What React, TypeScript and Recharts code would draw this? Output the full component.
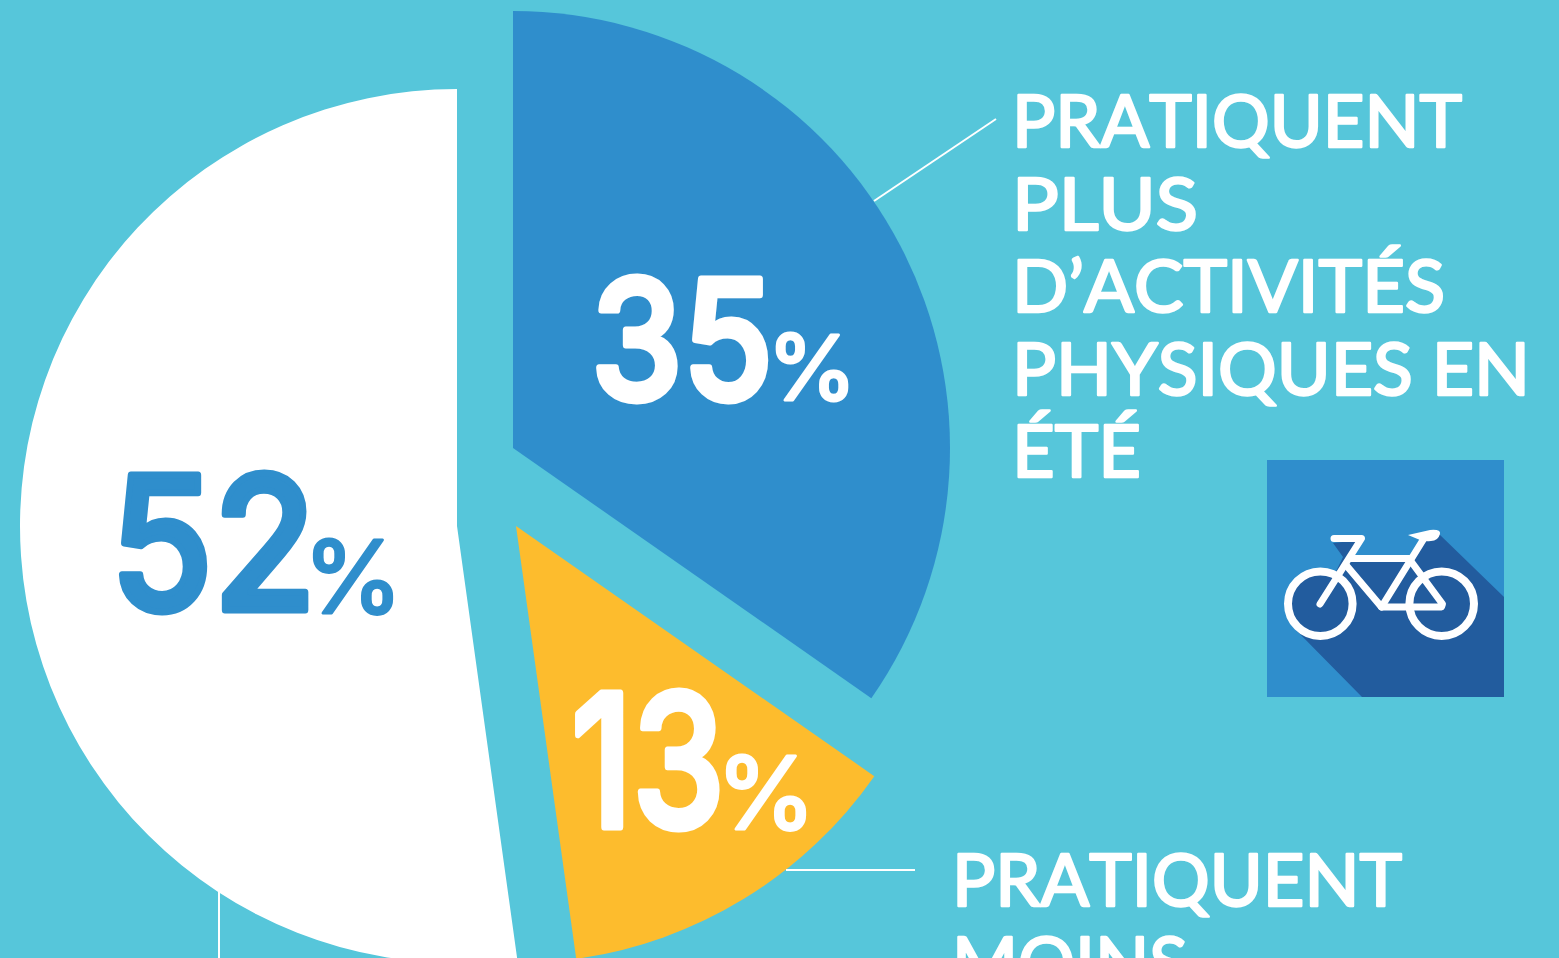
import { Cell, Pie, PieChart } from "recharts";

const WIDTH = 1559;
const HEIGHT = 958;

const categories = ["plus", "moins", "pareil"];
const shares = [34.7, 13.1, 52.2];
const sliceColors = ["#2f8ecc", "#fdbc2d", "#ffffff"];
const numberColors = ["#ffffff", "#ffffff", "#2f8ecc"];

const plusLines = ["PRATIQUENT", "PLUS", "D’ACTIVITÉS", "PHYSIQUES EN", "ÉTÉ"];
const moinsLines = ["PRATIQUENT", "MOINS"];

const data = categories.map((name, i) => ({ name, value: shares[i] }));

// each slice is pulled away from the centre, so one Pie per slice
const pieCentres = [
  { cx: 513, cy: 448 },
  { cx: 516, cy: 526 },
  { cx: 457, cy: 526 },
];

const numberPositions = [
  { x: 591, y: 399, size: 165, w: 182, px: 767, py: 400, pSize: 90, pw: 90 },
  { x: 571, y: 827, size: 184, w: 154, px: 716, py: 829, pSize: 100, pw: 100 },
  { x: 110, y: 610, size: 186, w: 206, px: 303, py: 613, pSize: 100, pw: 100 },
];

// line widths fitted to the reference, the font is only a near match
const plusWidths = [450, 186, 433, 518, 129];
const moinsWidths = [450, 236];

const numberFont = "Inter, 'Noto Sans', sans-serif";
const labelFont = "Lato, 'Open Sans', sans-serif";

function Bike() {
  return (
    <g>
      <rect x={1267} y={460} width={237} height={237} fill="#2f8ecc" />
      <circle cx={1320} cy={604} r={34} fill="#225c9e" />
      <polygon
        points="1438,533 1504,597 1504,697 1362,697 1296,630 1320,604 1343,557 1333,543 1361,540 1350,558 1410,558 1423,540"
        fill="#225c9e"
      />
      <g fill="none" stroke="#fff" strokeLinecap="round" strokeLinejoin="round">
        <circle cx={1320.3} cy={603.7} r={32.3} strokeWidth={8} />
        <circle cx={1441.7} cy={603.7} r={32.3} strokeWidth={8} />
        <g strokeWidth={7}>
          <path d="M1334 538.5H1361.5L1320 604" />
          <path d="M1350 558.5H1410" />
          <path d="M1423 540L1381.5 607" />
          <path d="M1346 565L1381.5 607H1441.5L1442.5 604L1410 560" />
        </g>
      </g>
      <path d="M1408 535L1430 530Q1441 529 1440 534Q1438 541 1431 541Q1424 542 1420 540Z" fill="#fff" />
    </g>
  );
}

function Overlay() {
  return (
    <svg
      width={WIDTH}
      height={HEIGHT}
      style={{ position: "absolute", left: 0, top: 0, pointerEvents: "none" }}
    >
      <g stroke="#fff" strokeWidth={2}>
        <line x1={874} y1={201} x2={996} y2={119} />
        <line x1={786} y1={870} x2={915} y2={870} />
        <line x1={219} y1={892} x2={219} y2={958} />
      </g>

      {shares.map((share, i) => {
        const p = numberPositions[i];
        return (
          <text
            key={categories[i]}
            fill={numberColors[i]}
            stroke={numberColors[i]}
            strokeLinejoin="round"
            fontFamily={numberFont}
          >
            <tspan x={p.x} y={p.y} fontSize={p.size} fontWeight={500} strokeWidth={7} textLength={p.w} lengthAdjust="spacingAndGlyphs">
              {Math.round(share)}
            </tspan>
            <tspan x={p.px} y={p.py} fontSize={p.pSize} fontWeight={400} strokeWidth={3} textLength={p.pw} lengthAdjust="spacingAndGlyphs">
              %
            </tspan>
          </text>
        );
      })}

      <g
        fill="#fff"
        stroke="#fff"
        strokeWidth={2.5}
        strokeLinejoin="round"
        fontFamily={labelFont}
        fontSize={72}
        style={{ fontKerning: "none" }}
      >
        {plusLines.map((line, i) => (
          <text key={i} x={1012} y={147 + i * 82.5} textLength={plusWidths[i]} lengthAdjust="spacingAndGlyphs">
            {line}
          </text>
        ))}
        {moinsLines.map((line, i) => (
          <text key={i} x={952} y={906 + i * 82.5} textLength={moinsWidths[i]} lengthAdjust="spacingAndGlyphs">
            {line}
          </text>
        ))}
      </g>

      <Bike />
    </svg>
  );
}

export default function App() {
  return (
    <div
      style={{
        position: "absolute",
        left: 0,
        top: 0,
        width: WIDTH,
        height: HEIGHT,
        overflow: "hidden",
        background: "#56c6da",
      }}
    >
      <PieChart width={WIDTH} height={HEIGHT} margin={{ top: 0, right: 0, bottom: 0, left: 0 }}>
        {pieCentres.map((centre, i) => (
          <Pie
            key={categories[i]}
            data={data}
            dataKey="value"
            nameKey="name"
            cx={centre.cx}
            cy={centre.cy}
            innerRadius={0}
            outerRadius={437}
            startAngle={90}
            endAngle={-270}
            stroke="none"
            isAnimationActive={false}
          >
            {data.map((entry, j) => (
              <Cell key={entry.name} fill={j === i ? sliceColors[i] : "none"} />
            ))}
          </Pie>
        ))}
      </PieChart>
      <Overlay />
    </div>
  );
}
